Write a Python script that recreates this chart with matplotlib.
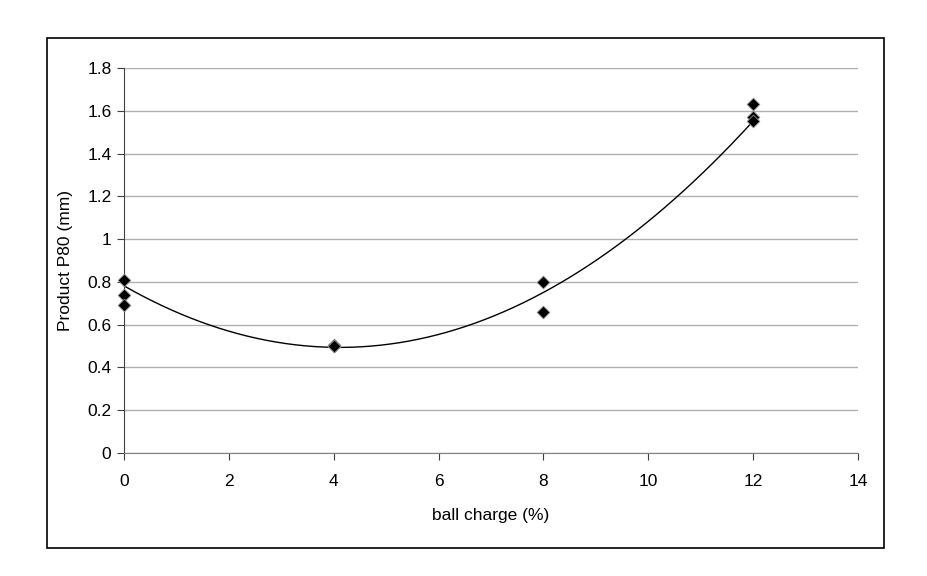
import numpy as np
import matplotlib
matplotlib.use('Agg')
import matplotlib.pyplot as plt
from matplotlib.patches import Rectangle

plt.rcParams['font.family'] = ['Liberation Sans', 'DejaVu Sans']

ball_charge = [0, 0, 0, 4, 4, 4, 8, 8, 12, 12, 12]
p80 = [0.81, 0.74, 0.69, 0.50, 0.505, 0.50, 0.80, 0.66, 1.63, 1.57, 1.55]

# trendline values
trend_x = [0, 2, 4, 6, 8, 10, 12]
trend_y = [0.765, 0.59, 0.505, 0.55, 0.74, 1.07, 1.565]

fig = plt.figure(figsize=(9.27, 5.76), dpi=100)
W, H = 927, 576
fig.patches.append(Rectangle((47 / W, 1 - 548 / H), (884 - 47) / W, (548 - 38) / H,
                             transform=fig.transFigure, fill=False,
                             edgecolor='black', linewidth=1.2))

ax = fig.add_axes([124 / W, 1 - 453 / H, (858 - 124) / W, (453 - 68) / H])

# polynomial trendline (order 2)
coef = np.polyfit(trend_x, trend_y, 2)
xs = np.linspace(0, 12, 200)
ax.plot(xs, np.polyval(coef, xs), color='black', linewidth=1, zorder=2)

ax.scatter(ball_charge, p80, marker='D', s=42, color='black',
           edgecolors='#909090', linewidths=0.6, zorder=3, clip_on=False)

ax.set_xlim(0, 14)
ax.set_ylim(0, 1.8)
ax.set_xticks(range(0, 15, 2))
ax.set_yticks(np.arange(0, 1.81, 0.2))
ax.set_yticklabels(['0', '0.2', '0.4', '0.6', '0.8', '1', '1.2', '1.4', '1.6', '1.8'])
ax.yaxis.grid(True, color='#b0b0b0', linewidth=1)
ax.set_axisbelow(True)
for s in ['top', 'right']:
    ax.spines[s].set_visible(False)
ax.spines['left'].set_color('#404040')
ax.spines['bottom'].set_color('#808080')
ax.tick_params(direction='out', length=5, labelsize=12.5, color='#404040')
ax.tick_params(axis='x', pad=10)
ax.tick_params(axis='y', pad=4)
ax.set_xlabel('ball charge (%)', fontsize=12.5, labelpad=14)
ax.set_ylabel('Product P80 (mm)', fontsize=12.5, labelpad=10)

fig.savefig('out.png', dpi=100)
